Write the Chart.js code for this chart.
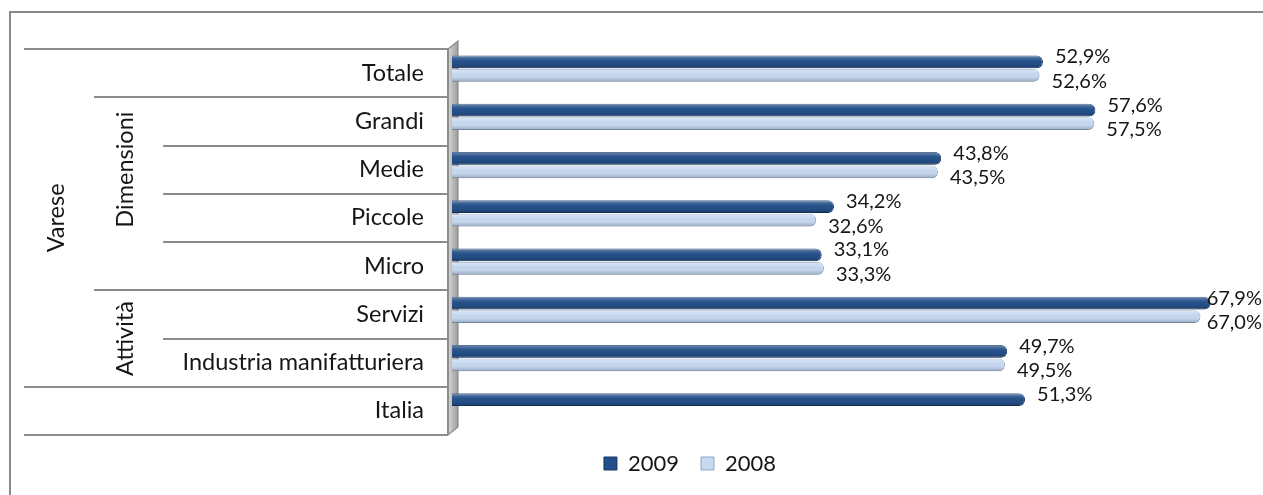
<!DOCTYPE html>
<html><head><meta charset="utf-8">
<script src="https://cdn.jsdelivr.net/npm/chart.js@4.4.0/dist/chart.umd.min.js"></script>
<style>
html,body{margin:0;padding:0;background:#fff;overflow:hidden;}
#wrap{position:relative;width:1263px;height:495px;overflow:hidden;}
#frame{position:absolute;left:9px;top:11px;width:2000px;height:2000px;border-left:2px solid #8a8a8a;border-top:2px solid #8a8a8a;box-sizing:border-box;pointer-events:none}
canvas{position:absolute;left:0;top:0}
</style></head>
<body><div id="wrap"><canvas id="c" width="1263" height="495"></canvas><div id="frame"></div></div>
<script>
// ---- data ----
const categories = ['Totale','Grandi','Medie','Piccole','Micro','Servizi','Industria manifatturiera','Italia'];
const values2009 = [52.9, 57.6, 43.8, 34.2, 33.1, 67.9, 49.7, 51.3];
const values2008 = [52.6, 57.5, 43.5, 32.6, 33.3, 67.0, 49.5, null];
const seriesNames = ['2009', '2008'];
// hierarchical group labels: level 0 = outer column, level 1 = inner column
const groupNames  = ['Varese', 'Dimensioni', 'Attività'];
const groupLevels = [0, 1, 1];
const groupFrom   = [0, 1, 5];
const groupTo     = [6, 4, 6];
const groupMid    = [3, 2, 5.5];

const FONT = 'Lato';
const TEXT = '#161616';
const AXIS_SIZE = 23.5;
const ROW_SHIFT = 4.5;          // depth offset between front labels and bars
const COL_X = [24, 94, 163];    // left edge of each label column
const BOX_RIGHT = 448;

function fmt(v){ return v.toFixed(1).replace('.', ',') + '%'; }

const wallAndGrid = {
  id: 'wallAndGrid',
  beforeDatasetsDraw(chart){
    const ctx = chart.ctx, y = chart.scales.y;
    const n = categories.length;
    const top = y.getPixelForValue(-0.5) + ROW_SHIFT;
    const bot = y.getPixelForValue(n - 0.5) + ROW_SHIFT;
    ctx.save();
    const g = ctx.createLinearGradient(BOX_RIGHT, 0, BOX_RIGHT + 10, 0);
    g.addColorStop(0, '#d6d6d6'); g.addColorStop(1, '#9c9c9c');
    ctx.beginPath();
    ctx.moveTo(BOX_RIGHT, top); ctx.lineTo(BOX_RIGHT + 10, top - 8);
    ctx.lineTo(BOX_RIGHT + 10, bot - 8); ctx.lineTo(BOX_RIGHT, bot); ctx.closePath();
    ctx.fillStyle = g; ctx.fill();
    ctx.strokeStyle = '#8c8c8c'; ctx.lineWidth = 1.2; ctx.stroke();
    ctx.restore();
  },
  afterDraw(chart){
    const ctx = chart.ctx, y = chart.scales.y;
    const n = categories.length;
    ctx.save();
    ctx.strokeStyle = '#8c8c8c'; ctx.lineWidth = 2;
    const inGroup0 = i => groupLevels.some((l, g) => l === 0 && i >= groupFrom[g] && i <= groupTo[g]);
    for (let k = 0; k <= n; k++) {
      let start = COL_X[2];
      groupLevels.forEach((l, g) => {
        if (k === groupFrom[g] || k === groupTo[g] + 1) start = Math.min(start, COL_X[l]);
      });
      if ((k > 0 && !inGroup0(k - 1)) || (k < n && !inGroup0(k))) start = COL_X[0];
      const py = Math.round(y.getPixelForValue(k - 0.5) + ROW_SHIFT);
      ctx.beginPath(); ctx.moveTo(start, py); ctx.lineTo(BOX_RIGHT, py); ctx.stroke();
    }
    const t = Math.round(y.getPixelForValue(-0.5) + ROW_SHIFT);
    const b = Math.round(y.getPixelForValue(n - 0.5) + ROW_SHIFT);
    ctx.beginPath(); ctx.moveTo(BOX_RIGHT, t); ctx.lineTo(BOX_RIGHT, b); ctx.stroke();
    // group labels (rotated)
    ctx.fillStyle = TEXT; ctx.font = AXIS_SIZE + 'px ' + FONT;
    ctx.textAlign = 'center'; ctx.textBaseline = 'middle';
    groupNames.forEach((name, g) => {
      const cx = (COL_X[groupLevels[g]] + COL_X[groupLevels[g] + 1]) / 2 - 3;
      const cy = y.getPixelForValue(groupMid[g]) + ROW_SHIFT;
      ctx.save(); ctx.translate(cx, cy); ctx.rotate(-Math.PI / 2);
      ctx.fillText(name, 0, 0); ctx.restore();
    });
    ctx.restore();
  }
};

const barShade = {
  id: 'barShade',
  afterDatasetsDraw(chart){
    const ctx = chart.ctx;
    ctx.save();
    chart.data.datasets.forEach((ds, di) => {
      const meta = chart.getDatasetMeta(di);
      meta.data.forEach((el, i) => {
        if (ds.data[i] == null) return;
        const p = el.getProps(['x', 'y', 'base', 'height'], true);
        const top = p.y - p.height / 2, left = p.base, w = p.x - p.base, h = p.height;
        ctx.save();
        ctx.beginPath(); ctx.roundRect(left, top, w, h, [0, 6, 6, 0]); ctx.clip();
        const g = ctx.createLinearGradient(0, top, 0, top + h);
        g.addColorStop(0, 'rgba(255,255,255,0.35)');
        g.addColorStop(0.3, 'rgba(255,255,255,0.08)');
        g.addColorStop(0.6, 'rgba(0,0,0,0)');
        g.addColorStop(1, 'rgba(0,0,0,0.22)');
        ctx.fillStyle = g; ctx.fillRect(left, top, w, h);
        ctx.restore();
      });
    });
    ctx.restore();
  }
};

const dataLabels = {
  id: 'dataLabels',
  afterDatasetsDraw(chart){
    const ctx = chart.ctx;
    ctx.save();
    ctx.font = '20px ' + FONT; ctx.fillStyle = TEXT;
    ctx.textAlign = 'left'; ctx.textBaseline = 'middle';
    const W = chart.width;
    chart.data.datasets.forEach((ds, di) => {
      const meta = chart.getDatasetMeta(di);
      meta.data.forEach((el, i) => {
        const v = ds.data[i];
        if (v == null) return;
        const s = fmt(v);
        const tw = ctx.measureText(s).width;
        const x = Math.min(el.x + 12, W - tw - 1);
        const y = el.y + (di === 0 ? -5 : 6);
        ctx.fillText(s, x, y);
      });
    });
    ctx.restore();
  }
};

const legendShift = {
  id: 'legendShift',
  afterLayout(chart){
    const L = chart.legend; if (!L) return;
    const d = 690 - (L.left + L.right) / 2;
    L.left += d; L.right += d;
  }
};

function draw(){
  new Chart(document.getElementById('c'), {
    type: 'bar',
    data: {
      labels: categories,
      datasets: [
        { label: seriesNames[0], data: values2009, backgroundColor: '#245089', borderColor: '#17396a',
          borderWidth: 1, borderRadius: 6, borderSkipped: 'start' },
        { label: seriesNames[1], data: values2008, backgroundColor: '#c6d9f1', borderColor: '#8ea6c6',
          borderWidth: 1, borderRadius: 6, borderSkipped: 'start' }
      ]
    },
    options: {
      indexAxis: 'y', responsive: false, animation: false,
      layout: { padding: { top: 44.5, right: 29, bottom: 10.5, left: 0 } },
      datasets: { bar: { categoryPercentage: 0.56, barPercentage: 0.96 } },
      scales: {
        x: { display: false, min: 0, max: 70 },
        y: {
          grid: { display: false, drawTicks: false }, border: { display: false },
          ticks: { padding: 28, labelOffset: ROW_SHIFT, color: TEXT, font: { family: FONT, size: AXIS_SIZE } },
          afterFit(s){ s.width = 452; }
        }
      },
      plugins: {
        legend: { position: 'bottom',
          labels: { boxWidth: 13, boxHeight: 13, padding: 22, color: TEXT, font: { family: FONT, size: 22 } } },
        tooltip: { enabled: false }
      }
    },
    plugins: [wallAndGrid, barShade, dataLabels, legendShift]
  });
}
(document.fonts && document.fonts.load ? document.fonts.load('22px Lato').catch(()=>{}) : Promise.resolve()).then(draw);
</script>
</body></html>
